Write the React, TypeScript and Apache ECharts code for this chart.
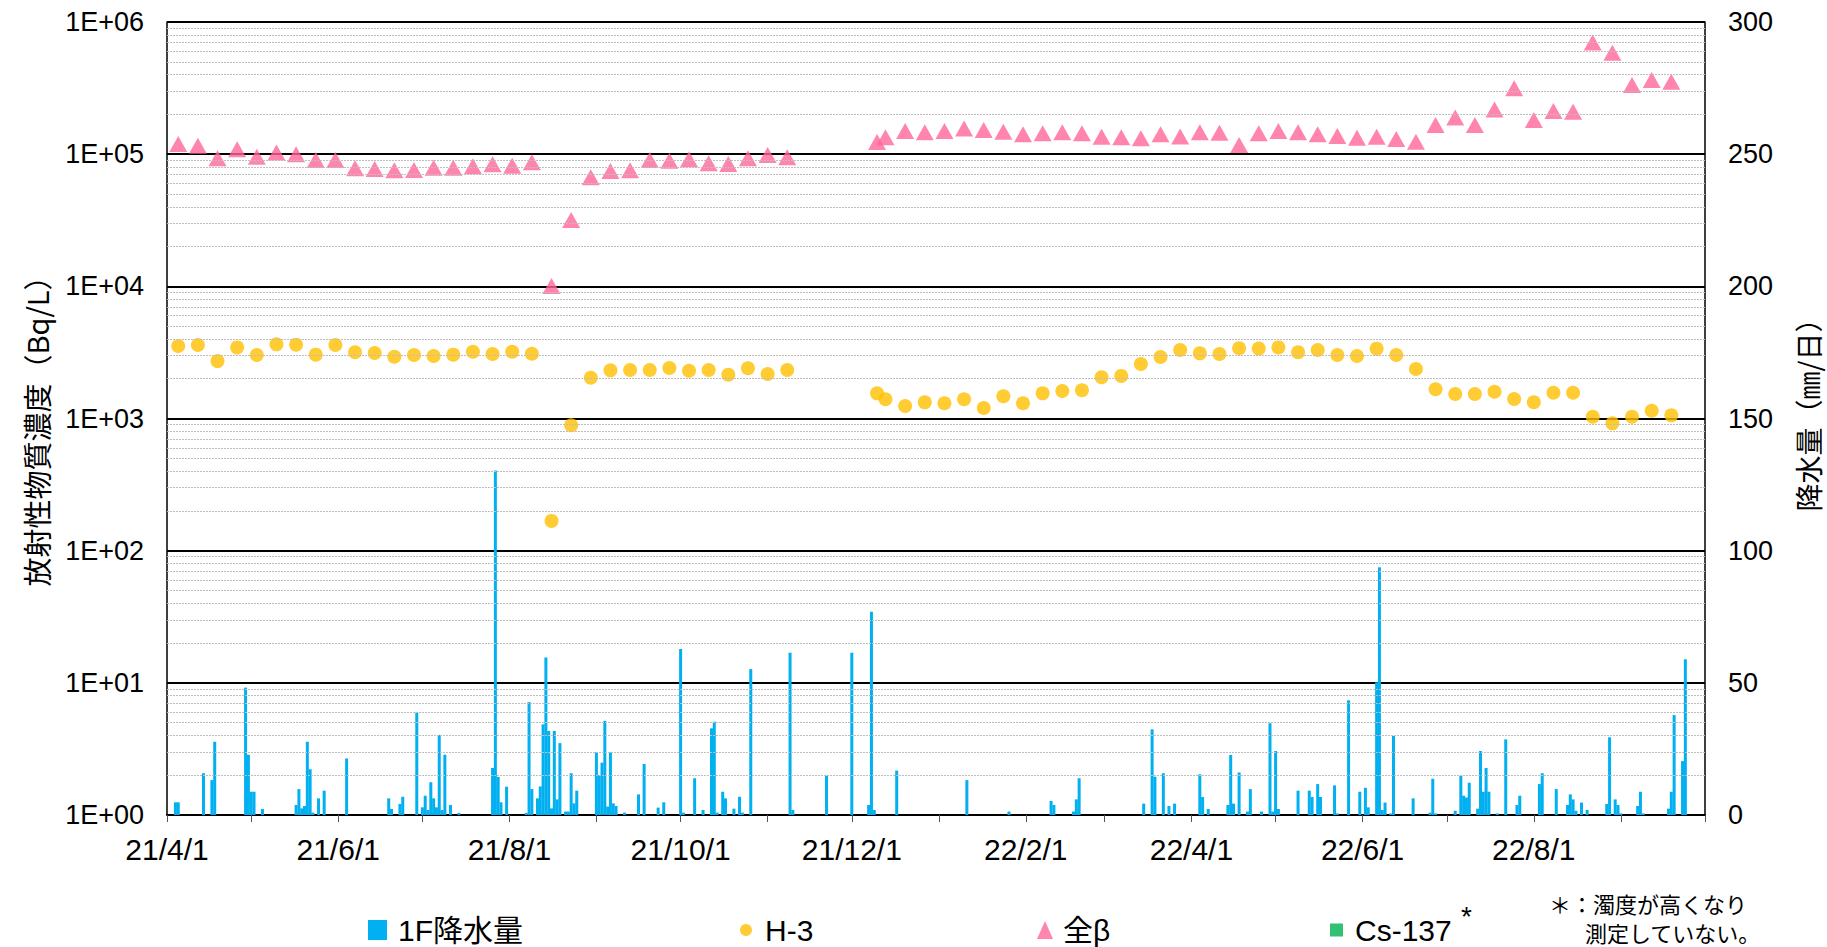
import React, { useEffect, useRef } from 'react';
import * as echarts from 'echarts';

// weekly sampling dates (H-3 and total beta)
const sampleDates = [
  '2021-04-05', '2021-04-12', '2021-04-19', '2021-04-26', '2021-05-03', '2021-05-10', '2021-05-17', '2021-05-24',
  '2021-05-31', '2021-06-07', '2021-06-14', '2021-06-21', '2021-06-28', '2021-07-05', '2021-07-12', '2021-07-19',
  '2021-07-26', '2021-08-02', '2021-08-09', '2021-08-16', '2021-08-23', '2021-08-30', '2021-09-06', '2021-09-13',
  '2021-09-20', '2021-09-27', '2021-10-04', '2021-10-11', '2021-10-18', '2021-10-25', '2021-11-01', '2021-11-08',
  '2021-12-10', '2021-12-13', '2021-12-20', '2021-12-27', '2022-01-03', '2022-01-10', '2022-01-17', '2022-01-24',
  '2022-01-31', '2022-02-07', '2022-02-14', '2022-02-21', '2022-02-28', '2022-03-07', '2022-03-14', '2022-03-21',
  '2022-03-28', '2022-04-04', '2022-04-11', '2022-04-18', '2022-04-25', '2022-05-02', '2022-05-09', '2022-05-16',
  '2022-05-23', '2022-05-30', '2022-06-06', '2022-06-13', '2022-06-20', '2022-06-27', '2022-07-04', '2022-07-11',
  '2022-07-18', '2022-07-25', '2022-08-01', '2022-08-08', '2022-08-15', '2022-08-22', '2022-08-29', '2022-09-05',
  '2022-09-12', '2022-09-19',
];

const h3Values = [
  3535, 3600, 2720, 3450, 3020, 3640, 3620, 3040,
  3600, 3170, 3130, 2935, 3020, 2970, 3040, 3200,
  3075, 3200, 3090, 168, 890, 2035, 2315, 2330,
  2330, 2410, 2300, 2330, 2145, 2400, 2170, 2330,
  1550, 1397, 1244, 1325, 1303, 1397, 1200, 1472,
  1303, 1550, 1615, 1635, 2050, 2100, 2583, 2918,
  3300, 3113, 3075, 3397, 3380, 3450, 3170, 3300,
  3020, 2970, 3375, 3020, 2367, 1663, 1532, 1532,
  1595, 1404, 1326, 1567, 1567, 1031, 919, 1031,
  1145, 1057,
];

const betaValues = [
  119400, 115700, 93000, 109000, 95700, 103000, 99700, 90300,
  90300, 78200, 77200, 75500, 76000, 79000, 79000, 81100,
  83800, 81800, 86800, 10050, 31800, 66800, 74600, 75500,
  90300, 89300, 91400, 85300, 84200, 93000, 98600, 94700,
  123500, 134000, 149600, 146200, 149600, 156300, 152300, 148000,
  141300, 143800, 146200, 143800, 135200, 134000, 131800, 141300,
  136200, 146200, 145000, 117300, 143800, 149600, 146200, 141300,
  137200, 133300, 135200, 130300, 124300, 166200, 189400, 166200,
  218000, 315000, 181300, 211900, 209500, 701000, 586000, 333600,
  363800, 353500,
];

// daily precipitation at 1F (mm/day), days with rain
const rainDates = [
  '2021-04-04', '2021-04-05', '2021-04-14', '2021-04-17', '2021-04-18', '2021-04-29', '2021-04-30', '2021-05-01',
  '2021-05-02', '2021-05-05', '2021-05-17', '2021-05-18', '2021-05-19', '2021-05-20', '2021-05-21', '2021-05-22',
  '2021-05-23', '2021-05-25', '2021-05-27', '2021-06-04', '2021-06-19', '2021-06-20', '2021-06-23', '2021-06-24',
  '2021-06-29', '2021-07-01', '2021-07-02', '2021-07-03', '2021-07-04', '2021-07-05', '2021-07-06', '2021-07-07',
  '2021-07-08', '2021-07-09', '2021-07-11', '2021-07-14', '2021-07-26', '2021-07-27', '2021-07-28', '2021-07-29',
  '2021-07-31', '2021-08-07', '2021-08-08', '2021-08-09', '2021-08-11', '2021-08-12', '2021-08-13', '2021-08-14',
  '2021-08-15', '2021-08-16', '2021-08-17', '2021-08-18', '2021-08-19', '2021-08-21', '2021-08-22', '2021-08-23',
  '2021-08-24', '2021-08-25', '2021-09-01', '2021-09-02', '2021-09-03', '2021-09-04', '2021-09-05', '2021-09-06',
  '2021-09-07', '2021-09-08', '2021-09-11', '2021-09-16', '2021-09-18', '2021-09-23', '2021-09-25', '2021-10-01',
  '2021-10-02', '2021-10-06', '2021-10-09', '2021-10-12', '2021-10-13', '2021-10-14', '2021-10-16', '2021-10-17',
  '2021-10-20', '2021-10-22', '2021-10-23', '2021-10-26', '2021-11-09', '2021-11-10', '2021-11-22', '2021-12-01',
  '2021-12-07', '2021-12-08', '2021-12-09', '2021-12-17', '2022-01-11', '2022-01-26', '2022-02-10', '2022-02-11',
  '2022-02-18', '2022-02-19', '2022-02-20', '2022-03-15', '2022-03-18', '2022-03-19', '2022-03-22', '2022-03-24',
  '2022-03-26', '2022-04-04', '2022-04-05', '2022-04-07', '2022-04-14', '2022-04-15', '2022-04-16', '2022-04-18',
  '2022-04-21', '2022-04-22', '2022-04-26', '2022-04-29', '2022-04-30', '2022-05-01', '2022-05-02', '2022-05-09',
  '2022-05-13', '2022-05-14', '2022-05-16', '2022-05-17', '2022-05-22', '2022-05-23', '2022-05-27', '2022-05-31',
  '2022-06-02', '2022-06-03', '2022-06-06', '2022-06-07', '2022-06-08', '2022-06-09', '2022-06-11', '2022-06-12',
  '2022-06-19', '2022-06-25', '2022-06-26', '2022-06-27', '2022-07-04', '2022-07-06', '2022-07-07', '2022-07-08',
  '2022-07-09', '2022-07-12', '2022-07-13', '2022-07-14', '2022-07-15', '2022-07-16', '2022-07-19', '2022-07-22',
  '2022-07-26', '2022-07-27', '2022-08-03', '2022-08-04', '2022-08-09', '2022-08-13', '2022-08-14', '2022-08-15',
  '2022-08-16', '2022-08-18', '2022-08-20', '2022-08-27', '2022-08-28', '2022-08-30', '2022-08-31', '2022-09-01',
  '2022-09-07', '2022-09-08', '2022-09-09', '2022-09-18', '2022-09-19', '2022-09-20', '2022-09-23', '2022-09-24',
];

const rainValues = [
  4.8, 4.8, 15.8, 13.2, 27.7, 48.2, 22.8, 8.8,
  8.8, 2.3, 3.8, 9.8, 2.5, 3.4, 27.7, 17.3,
  0.9, 6.3, 9.2, 21.4, 6.3, 2.3, 4.2, 6.9,
  38.8, 2.9, 7.3, 1.9, 12.4, 6.3, 2.9, 30.3,
  1.9, 22.8, 3.8, 0.8, 17.8, 130.3, 14.4, 4.8,
  10.7, 0.8, 42.7, 9.8, 6.3, 10.8, 34.3, 59.6,
  31.8, 2.5, 31.8, 5.9, 27.2, 1.3, 1.3, 15.8,
  4.4, 9.2, 23.7, 15.1, 19.8, 35.6, 3.2, 23.7,
  4.4, 3.4, 0.9, 7.8, 19.3, 2.8, 4.8, 62.8,
  0.9, 13.9, 1.9, 32.8, 35.3, 0.9, 8.8, 6.3,
  2.4, 6.9, 0.9, 55.2, 61.4, 1.9, 14.9, 61.4,
  3.8, 76.9, 1.9, 16.8, 13.2, 1.3, 5.3, 3.8,
  1.3, 5.9, 13.9, 4.3, 32.4, 14.5, 15.8, 3.4,
  4.3, 15.4, 6.8, 2.3, 3.8, 22.7, 4.3, 16.1,
  1.3, 9.8, 1.3, 34.7, 1.3, 24.2, 2.3, 9.2,
  9.2, 6.8, 11.7, 6.8, 11.2, 0.6, 43.4, 8.8,
  10.3, 2.9, 50.2, 93.7, 1.9, 4.7, 0.6, 29.9,
  6.3, 0.9, 13.7, 0.6, 1.6, 14.8, 7.3, 6.6,
  12.2, 2.4, 24.2, 8.8, 17.8, 8.8, 0.6, 28.6,
  3.8, 7.3, 11.7, 15.8, 9.8, 3.8, 7.8, 5.9,
  1.6, 4.7, 1.9, 4.2, 29.4, 5.9, 3.8, 0.6,
  3.4, 8.8, 0.6, 2.4, 8.8, 37.8, 20.4, 58.9,
];

const xMin = '2021-04-01';
const xMax = '2022-10-01';
const monthTicks = [
  '2021-04-01', '2021-05-01', '2021-06-01', '2021-07-01', '2021-08-01', '2021-09-01', '2021-10-01',
  '2021-11-01', '2021-12-01', '2022-01-01', '2022-02-01', '2022-03-01', '2022-04-01', '2022-05-01',
  '2022-06-01', '2022-07-01', '2022-08-01', '2022-09-01', '2022-10-01',
];
const xLabelDates = [
  '2021-04-01', '2021-06-01', '2021-08-01', '2021-10-01', '2021-12-01',
  '2022-02-01', '2022-04-01', '2022-06-01', '2022-08-01',
];
const leftTickLabels = ['1E+00', '1E+01', '1E+02', '1E+03', '1E+04', '1E+05', '1E+06'];
const rightMin = 0;
const rightMax = 300;
const rightInterval = 50;

const toTs = (s: string) => {
  const [y, m, d] = s.split('-').map(Number);
  return new Date(y, m - 1, d).getTime();
};

const minorGrid: number[] = [];
for (let k = 0; k < 6; k++) {
  for (let m = 2; m <= 9; m++) minorGrid.push(m * Math.pow(10, k));
}

const NUM_FONT = '"Liberation Sans", Arial, "Noto Sans CJK JP", sans-serif';
const JP_FONT = '"Noto Sans CJK JP", "Liberation Sans", sans-serif';

export default function App() {
  const ref = useRef<HTMLDivElement>(null);

  useEffect(() => {
    document.body.style.margin = '0';
    if (!ref.current) return;
    const chart = echarts.init(ref.current, undefined, { renderer: 'svg' });

    const legendBase = (name: string, left: number, icon: string, w: number, h: number, padLeft: number) => ({
      data: [name],
      left,
      top: 914,
      icon,
      itemWidth: w,
      itemHeight: h,
      padding: 0,
      selectedMode: false,
      textStyle: {
        fontSize: 30,
        fontFamily: NUM_FONT,
        color: '#000',
        lineHeight: 32,
        padding: [0, 0, 0, padLeft],
      },
    });

    chart.setOption({
      animation: false,
      backgroundColor: '#fff',
      grid: { left: 167, right: 122, top: 22, bottom: 132, containLabel: false },
      xAxis: {
        type: 'value',
        min: toTs(xMin),
        max: toTs(xMax),
        axisLine: { show: true, lineStyle: { color: '#000', width: 2 } },
        axisTick: {
          show: true,
          length: 7,
          lineStyle: { color: '#555', width: 1 },
          customValues: monthTicks.map(toTs),
        },
        axisLabel: {
          customValues: xLabelDates.map(toTs),
          formatter: (v: number) => {
            const d = new Date(v);
            return `${String(d.getFullYear()).slice(2)}/${d.getMonth() + 1}/${d.getDate()}`;
          },
          fontSize: 30,
          fontFamily: NUM_FONT,
          color: '#000',
          margin: 19,
          showMinLabel: true,
          showMaxLabel: true,
        },
        splitLine: { show: false },
      },
      yAxis: [
        {
          type: 'log',
          logBase: 10,
          min: 1,
          max: 1e6,
          splitNumber: 6,
          axisLine: { show: true, lineStyle: { color: '#000', width: 1.5 } },
          axisTick: { show: false },
          axisLabel: {
            fontSize: 27,
            fontFamily: NUM_FONT,
            color: '#000',
            margin: 23,
            formatter: (v: number) => leftTickLabels[Math.round(Math.log10(v))] ?? '',
          },
          splitLine: { show: true, lineStyle: { color: '#000', width: 2 } },
        },
        {
          type: 'value',
          min: rightMin,
          max: rightMax,
          interval: rightInterval,
          position: 'right',
          axisLine: { show: true, lineStyle: { color: '#000', width: 1.5 } },
          axisTick: { show: false },
          axisLabel: {
            fontSize: 27,
            fontFamily: NUM_FONT,
            color: '#000',
            margin: 23,
          },
          splitLine: { show: false },
        },
      ],
      legend: [
        legendBase('1F降水量', 368, 'rect', 19, 20, 6),
        legendBase('H-3', 740, 'circle', 12, 12, 8),
        legendBase('全β', 1037, 'triangle', 16, 18, 5),
        legendBase('Cs-137', 1330, 'rect', 13, 13, 7),
      ],
      series: [
        {
          name: 'minorGrid',
          type: 'line',
          yAxisIndex: 0,
          data: [],
          silent: true,
          z: 1,
          markLine: {
            silent: true,
            symbol: ['none', 'none'],
            label: { show: false },
            lineStyle: { type: [2, 1], color: '#bdbdbd', width: 1 },
            data: minorGrid.map((v) => ({ yAxis: v })),
            animation: false,
          },
        },
        {
          name: '1F降水量',
          type: 'bar',
          yAxisIndex: 1,
          barWidth: 3,
          itemStyle: { color: '#00B0F0' },
          data: rainDates.map((d, i) => [toTs(d), rainValues[i]]),
          z: 2,
        },
        {
          name: 'H-3',
          type: 'scatter',
          yAxisIndex: 0,
          symbol: 'circle',
          symbolSize: 14,
          itemStyle: { color: '#FFC000' },
          data: sampleDates.map((d, i) => [toTs(d), h3Values[i]]),
          z: 4,
        },
        {
          name: '全β',
          type: 'scatter',
          yAxisIndex: 0,
          symbol: 'triangle',
          symbolSize: [18, 16],
          itemStyle: { color: '#FF6699' },
          data: sampleDates.map((d, i) => [toTs(d), betaValues[i]]),
          z: 4,
        },
        {
          name: 'Cs-137',
          type: 'scatter',
          yAxisIndex: 0,
          symbol: 'rect',
          itemStyle: { color: '#00B050' },
          data: [],
        },
      ],
      graphic: [
        {
          type: 'text',
          x: 36,
          y: 424,
          rotation: Math.PI / 2,
          style: {
            text: '放射性物質濃度（Bq/L）',
            fontSize: 29,
            fontFamily: JP_FONT,
            fill: '#000',
            textAlign: 'center',
            textVerticalAlign: 'middle',
          },
        },
        {
          type: 'text',
          x: 1808,
          y: 408,
          rotation: Math.PI / 2,
          style: {
            text: '降水量（㎜/日）',
            fontSize: 28,
            fontFamily: JP_FONT,
            fill: '#000',
            textAlign: 'center',
            textVerticalAlign: 'middle',
          },
        },
        {
          type: 'text',
          x: 1461,
          y: 916,
          style: {
            text: '*',
            fontSize: 28,
            fontFamily: NUM_FONT,
            fill: '#000',
            textAlign: 'left',
            textVerticalAlign: 'middle',
          },
        },
        {
          type: 'text',
          x: 1549,
          y: 903,
          style: {
            text: '＊：濁度が高くなり',
            fontSize: 22,
            lineHeight: 24,
            fontFamily: JP_FONT,
            fill: '#000',
            textAlign: 'left',
            textVerticalAlign: 'middle',
          },
        },
        {
          type: 'text',
          x: 1585,
          y: 932,
          style: {
            text: '測定していない。',
            fontSize: 22,
            lineHeight: 24,
            fontFamily: JP_FONT,
            fill: '#000',
            textAlign: 'left',
            textVerticalAlign: 'middle',
          },
        },
      ],
    });

    return () => chart.dispose();
  }, []);

  return <div ref={ref} style={{ width: 1827, height: 947 }} />;
}
